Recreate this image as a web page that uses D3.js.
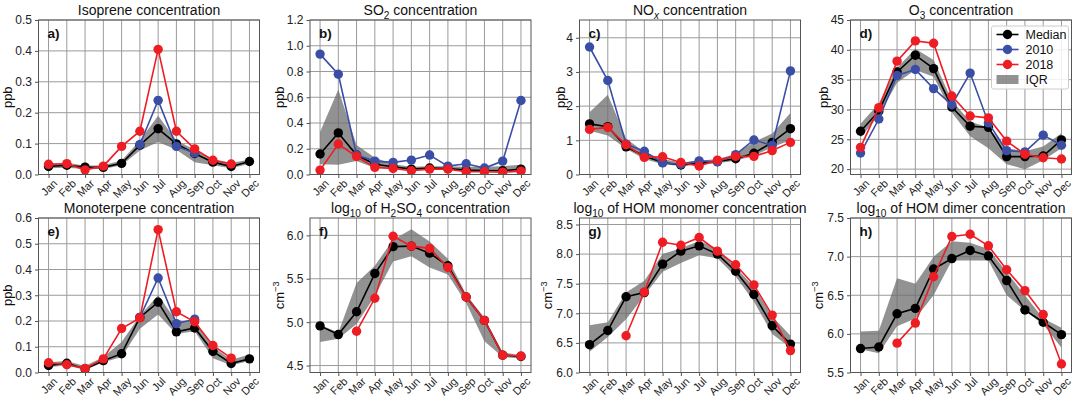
<!DOCTYPE html>
<html>
<head>
<meta charset="utf-8">
<script src="https://cdn.jsdelivr.net/npm/d3@7"></script>
<style>
  body { margin: 0; background: #fff; }
  svg { display: block; font-family: "Liberation Sans", Arial, sans-serif; }
</style>
</head>
<body>
<div id="chart"></div>
<script>
const months = ['Jan', 'Feb', 'Mar', 'Apr', 'May', 'Jun', 'Jul', 'Aug', 'Sep', 'Oct', 'Nov', 'Dec'];

// a) isoprene, ppb
const isoMedian = [0.026, 0.030, 0.024, 0.023, 0.036, 0.095, 0.148, 0.099, 0.068, 0.040, 0.026, 0.042];
const isoQ1 = [0.020, 0.022, 0.018, 0.018, 0.030, 0.078, 0.105, 0.080, 0.040, 0.030, 0.020, 0.035];
const isoQ3 = [0.035, 0.038, 0.028, 0.030, 0.045, 0.110, 0.190, 0.110, 0.080, 0.050, 0.038, 0.048];
const iso2010 = [null, null, null, null, null, 0.097, 0.240, 0.091, 0.070, null, null, null];
const iso2018 = [0.033, 0.035, 0.015, 0.027, 0.091, 0.140, 0.405, 0.140, 0.083, 0.046, 0.034, null];

// b) SO2, ppb
const so2Median = [0.159, 0.323, 0.151, 0.080, 0.060, 0.042, 0.050, 0.047, 0.034, 0.031, 0.029, 0.042];
const so2Q1 = [0.080, 0.075, 0.105, 0.050, 0.045, 0.035, 0.040, 0.040, 0.025, 0.025, 0.025, 0.030];
const so2Q3 = [0.330, 0.660, 0.230, 0.130, 0.080, 0.060, 0.065, 0.065, 0.060, 0.060, 0.065, 0.075];
const so22010 = [0.935, 0.779, 0.151, 0.104, 0.094, 0.112, 0.151, 0.065, 0.083, 0.050, 0.104, 0.575];
const so22018 = [0.034, 0.237, 0.140, 0.055, 0.047, 0.029, 0.042, 0.042, 0.021, 0.021, 0.018, 0.026];

// c) NOx, ppb
const noxMedian = [1.48, 1.40, 0.81, 0.54, 0.35, 0.28, 0.33, 0.38, 0.46, 0.62, 0.94, 1.34];
const noxQ1 = [1.28, 1.14, 0.75, 0.45, 0.30, 0.25, 0.28, 0.33, 0.40, 0.55, 0.80, 1.00];
const noxQ3 = [1.82, 2.33, 1.05, 0.65, 0.45, 0.35, 0.40, 0.45, 0.60, 0.95, 1.20, 1.80];
const nox2010 = [3.73, 2.75, 0.89, 0.68, 0.34, 0.30, 0.40, 0.37, 0.58, 1.01, 0.85, 3.03];
const nox2018 = [1.32, 1.38, 0.87, 0.50, 0.52, 0.35, 0.25, 0.42, 0.53, 0.53, 0.70, 0.94];

// d) O3, ppb
const o3Median = [26.35, 29.7, 36.3, 39.1, 36.85, 30.4, 27.2, 27.0, 22.1, 22.1, 22.2, 24.9];
const o3Q1 = [25.3, 29.0, 34.5, 36.6, 35.5, 29.5, 25.5, 23.5, 20.8, 20.0, 21.5, 23.5];
const o3Q3 = [27.6, 31.0, 37.0, 40.2, 38.3, 31.5, 28.0, 27.0, 23.5, 23.0, 23.8, 26.0];
const o32010 = [22.7, 28.4, 35.7, 36.7, 33.5, 30.8, 36.1, 27.75, 23.1, 22.9, 25.7, 24.0];
const o32018 = [23.65, 30.3, 38.1, 41.5, 41.1, 32.25, 28.9, 28.6, 24.7, 22.5, 21.9, 21.7];

// e) monoterpene, ppb
const monMedian = [0.027, 0.036, 0.014, 0.046, 0.073, 0.214, 0.273, 0.158, 0.173, 0.082, 0.035, 0.053];
const monQ1 = [0.020, 0.028, 0.010, 0.040, 0.060, 0.170, 0.225, 0.150, 0.160, 0.055, 0.028, 0.045];
const monQ3 = [0.040, 0.045, 0.025, 0.060, 0.118, 0.220, 0.300, 0.200, 0.200, 0.100, 0.050, 0.070];
const mon2010 = [null, null, null, null, null, 0.214, 0.367, 0.190, 0.207, null, null, null];
const mon2018 = [0.038, 0.030, 0.016, 0.053, 0.171, 0.212, 0.555, 0.236, 0.197, 0.105, 0.056, null];

// f) log10 H2SO4, cm-3
const h2so4Median = [4.957, 4.857, 5.12, 5.56, 5.87, 5.876, 5.795, 5.65, 5.29, 5.02, 4.62, 4.605];
const h2so4Q1 = [4.77, 4.81, 4.98, 5.30, 5.70, 5.76, 5.63, 5.55, 5.22, 4.78, 4.60, 4.58];
const h2so4Q3 = [4.97, 4.88, 5.45, 5.65, 5.95, 6.07, 5.93, 5.73, 5.32, 5.05, 4.65, 4.62];
const h2so42018 = [null, null, 4.895, 5.275, 5.99, 5.876, 5.85, 5.63, 5.29, 5.02, 4.62, 4.61];

// g) log10 HOM monomer, cm-3
const homMonoMedian = [6.47, 6.71, 7.28, 7.35, 7.83, 8.05, 8.14, 8.00, 7.71, 7.32, 6.79, 6.48];
const homMonoQ1 = [6.35, 6.60, 6.90, 7.30, 7.70, 7.85, 7.98, 7.93, 7.62, 7.20, 6.65, 6.42];
const homMonoQ3 = [6.80, 6.85, 7.35, 7.55, 8.00, 8.10, 8.22, 8.10, 7.78, 7.45, 6.95, 6.62];
const homMono2018 = [null, null, 6.62, 7.36, 8.20, 8.15, 8.28, 8.05, 7.82, 7.48, 6.97, 6.37];

// h) log10 HOM dimer, cm-3
const homDimMedian = [5.81, 5.83, 6.26, 6.33, 6.84, 6.975, 7.08, 7.01, 6.69, 6.31, 6.15, 5.99];
const homDimQ1 = [5.80, 5.75, 6.10, 6.20, 6.50, 6.95, 6.95, 6.95, 6.50, 6.30, 6.12, 5.82];
const homDimQ3 = [6.03, 6.04, 6.72, 6.65, 7.00, 7.20, 7.18, 7.10, 6.80, 6.50, 6.20, 6.08];
const homDim2018 = [null, null, 5.88, 6.14, 6.74, 7.26, 7.29, 7.14, 6.83, 6.56, 6.25, 5.61];

// tick values
const ticksA = [0, 0.1, 0.2, 0.3, 0.4, 0.5];
const ticksB = [0, 0.2, 0.4, 0.6, 0.8, 1.0, 1.2];
const ticksC = [0, 1, 2, 3, 4];
const ticksD = [20, 25, 30, 35, 40, 45];
const ticksE = [0, 0.1, 0.2, 0.3, 0.4, 0.5, 0.6];
const ticksF = [4.5, 5.0, 5.5, 6.0];
const ticksG = [6.0, 6.5, 7.0, 7.5, 8.0, 8.5];
const ticksH = [5.5, 6.0, 6.5, 7.0, 7.5];

const BLUE = '#3b4ea6';
const RED = '#ee1d24';
const BAND = '#6e6e6e';
const W = 221, H = 154.5;
const colX = [38.5, 310, 579.5, 850.5];
const rowY = [20, 218];

const ppb = [['ppb']];
const cm3 = [['cm'], ['\u22123', 'sup']];

const panels = [
  { tag: 'a)', col: 0, row: 0, title: [['Isoprene concentration']], ylabel: ppb, ylx: 12,
    ylim: [0, 0.5], ticks: ticksA, fmt: '.1f', median: isoMedian, q1: isoQ1, q3: isoQ3, y2010: iso2010, y2018: iso2018 },
  { tag: 'b)', col: 1, row: 0, title: [['SO'], ['2', 'sub'], [' concentration']], ylabel: ppb, ylx: 284,
    ylim: [0, 1.2], ticks: ticksB, fmt: '.1f', median: so2Median, q1: so2Q1, q3: so2Q3, y2010: so22010, y2018: so22018 },
  { tag: 'c)', col: 2, row: 0, title: [['NO'], ['x', 'isub'], [' concentration']], ylabel: ppb, ylx: 565,
    ylim: [0, 4.52], ticks: ticksC, fmt: 'd', median: noxMedian, q1: noxQ1, q3: noxQ3, y2010: nox2010, y2018: nox2018 },
  { tag: 'd)', col: 3, row: 0, title: [['O'], ['3', 'sub'], [' concentration']], ylabel: ppb, ylx: 828,
    ylim: [19.1, 45], ticks: ticksD, fmt: 'd', median: o3Median, q1: o3Q1, q3: o3Q3, y2010: o32010, y2018: o32018, legend: true },
  { tag: 'e)', col: 0, row: 1, title: [['Monoterpene concentration']], ylabel: ppb, ylx: 12,
    ylim: [0, 0.6], ticks: ticksE, fmt: '.1f', median: monMedian, q1: monQ1, q3: monQ3, y2010: mon2010, y2018: mon2018 },
  { tag: 'f)', col: 1, row: 1, title: [['log'], ['10', 'sub'], [' of H'], ['2', 'sub'], ['SO'], ['4', 'sub'], [' concentration']],
    ylabel: cm3, ylx: 284, ylim: [4.42, 6.2], ticks: ticksF, fmt: '.1f',
    median: h2so4Median, q1: h2so4Q1, q3: h2so4Q3, y2010: null, y2018: h2so42018 },
  { tag: 'g)', col: 2, row: 1, title: [['log'], ['10', 'sub'], [' of HOM monomer concentration']],
    ylabel: cm3, ylx: 552, ylim: [6.0, 8.61], ticks: ticksG, fmt: '.1f',
    median: homMonoMedian, q1: homMonoQ1, q3: homMonoQ3, y2010: null, y2018: homMono2018 },
  { tag: 'h)', col: 3, row: 1, title: [['log'], ['10', 'sub'], [' of HOM dimer concentration']],
    ylabel: cm3, ylx: 823, ylim: [5.5, 7.5], ticks: ticksH, fmt: '.1f',
    median: homDimMedian, q1: homDimQ1, q3: homDimQ3, y2010: null, y2018: homDim2018 },
];

// writes text with sub/superscript pieces as tspans
function richText(sel, parts, size) {
  let shift = 0;
  parts.forEach(([txt, kind]) => {
    let target = 0;
    if (kind === 'sub' || kind === 'isub') target = size * 0.3;
    if (kind === 'sup') target = -size * 0.4;
    const t = sel.append('tspan').attr('dy', target - shift).text(txt);
    if (kind) t.attr('font-size', size * 0.72);
    if (kind === 'isub') t.attr('font-style', 'italic');
    shift = target;
  });
}

const svg = d3.select('#chart').append('svg')
  .attr('width', 1073).attr('height', 398);

panels.forEach(p => {
  const x0 = colX[p.col], y0 = rowY[p.row];
  const x = d3.scalePoint().domain(months).range([x0, x0 + W]).padding(0.55);
  const y = d3.scaleLinear().domain(p.ylim).range([y0 + H, y0]);
  const g = svg.append('g');

  const clipId = 'clip' + p.col + p.row;
  g.append('clipPath').attr('id', clipId)
    .append('rect').attr('x', x0).attr('y', y0).attr('width', W).attr('height', H);

  // grid
  g.append('g').selectAll('line').data(months).join('line')
    .attr('x1', d => x(d)).attr('x2', d => x(d))
    .attr('y1', y0).attr('y2', y0 + H)
    .attr('stroke', '#9a9a9a').attr('stroke-width', 1);
  g.append('g').selectAll('line').data(p.ticks).join('line')
    .attr('x1', x0).attr('x2', x0 + W)
    .attr('y1', d => y(d)).attr('y2', d => y(d))
    .attr('stroke', '#9a9a9a').attr('stroke-width', 1);

  const plot = g.append('g').attr('clip-path', `url(#${clipId})`);

  // IQR band
  const area = d3.area()
    .x((d, i) => x(months[i]))
    .y0((d, i) => y(p.q1[i]))
    .y1((d, i) => y(p.q3[i]));
  plot.append('path').attr('d', area(p.q1))
    .attr('fill', BAND).attr('fill-opacity', 0.75);

  const line = d3.line()
    .defined(d => d != null)
    .x((d, i) => x(months[i]))
    .y(d => y(d));

  const series = [
    { values: p.median, color: '#000' },
    { values: p.y2010, color: BLUE },
    { values: p.y2018, color: RED },
  ].filter(s => s.values);

  series.forEach(s => {
    plot.append('path').attr('d', line(s.values))
      .attr('fill', 'none').attr('stroke', s.color).attr('stroke-width', 1.6);
    plot.append('g').selectAll('circle')
      .data(s.values.map((v, i) => ({ v, m: months[i] })).filter(d => d.v != null))
      .join('circle')
      .attr('cx', d => x(d.m)).attr('cy', d => y(d.v)).attr('r', 4.7)
      .attr('fill', s.color);
  });

  // spines
  g.append('rect').attr('x', x0).attr('y', y0).attr('width', W).attr('height', H)
    .attr('fill', 'none').attr('stroke', '#555').attr('stroke-width', 1);

  // axes
  const yAxis = g.append('g').attr('transform', `translate(${x0},0)`)
    .call(d3.axisLeft(y).tickValues(p.ticks).tickSize(3.5).tickPadding(3).tickFormat(d3.format(p.fmt)));
  const xAxis = g.append('g').attr('transform', `translate(0,${y0 + H})`)
    .call(d3.axisBottom(x).tickSize(3.5).tickPadding(3));
  [yAxis, xAxis].forEach(a => {
    a.select('.domain').remove();
    a.selectAll('.tick line').attr('stroke', '#555');
    a.selectAll('.tick text').attr('fill', '#222').attr('font-size', 12)
      .attr('font-family', '"Liberation Sans", Arial, sans-serif');
  });
  // month labels: rotated 45 degrees about their centre, hanging just below the axis
  xAxis.selectAll('.tick text')
    .attr('font-size', 11)
    .attr('text-anchor', 'middle')
    .attr('y', 0).attr('dy', '0.35em')
    .attr('transform', function() {
      const w = this.getComputedTextLength();
      const off = 4 + (w + 8) * 0.7071 / 2;
      return `translate(0,${off}) rotate(-45)`;
    });

  // title
  const title = g.append('text')
    .attr('x', x0 + W / 2).attr('y', y0 - 5)
    .attr('text-anchor', 'middle').attr('font-size', 14).attr('fill', '#111');
  richText(title, p.title, 14);

  // panel tag
  g.append('text').attr('x', x0 + 9).attr('y', y0 + 18)
    .attr('font-size', 13.5).attr('font-weight', 'bold').attr('fill', '#111')
    .text(p.tag);

  // y label
  const yl = g.append('text')
    .attr('transform', `translate(${p.ylx},${y0 + H / 2}) rotate(-90)`)
    .attr('text-anchor', 'middle').attr('font-size', 13).attr('fill', '#111');
  richText(yl, p.ylabel, 13);

  if (p.legend) {
    const lx = x0 + W - 80, ly = y0 + 6;
    const lg = g.append('g');
    lg.append('rect').attr('x', lx).attr('y', ly).attr('width', 77).attr('height', 63)
      .attr('rx', 2).attr('fill', '#fff').attr('fill-opacity', 0.85)
      .attr('stroke', '#ccc');
    const items = [
      { label: 'Median', color: '#000' },
      { label: '2010', color: BLUE },
      { label: '2018', color: RED },
      { label: 'IQR', band: true },
    ];
    items.forEach((it, i) => {
      const cy = ly + 8.5 + i * 15;
      if (it.band) {
        lg.append('rect').attr('x', lx + 5).attr('y', cy - 4.5).attr('width', 22).attr('height', 9)
          .attr('fill', BAND).attr('fill-opacity', 0.75);
      } else {
        lg.append('line').attr('x1', lx + 5).attr('x2', lx + 27).attr('y1', cy).attr('y2', cy)
          .attr('stroke', it.color).attr('stroke-width', 1.6);
        lg.append('circle').attr('cx', lx + 16).attr('cy', cy).attr('r', 4.7).attr('fill', it.color);
      }
      lg.append('text').attr('x', lx + 34).attr('y', cy + 4.5)
        .attr('font-size', 12.5).attr('fill', '#111').text(it.label);
    });
  }
});
</script>
</body>
</html>
